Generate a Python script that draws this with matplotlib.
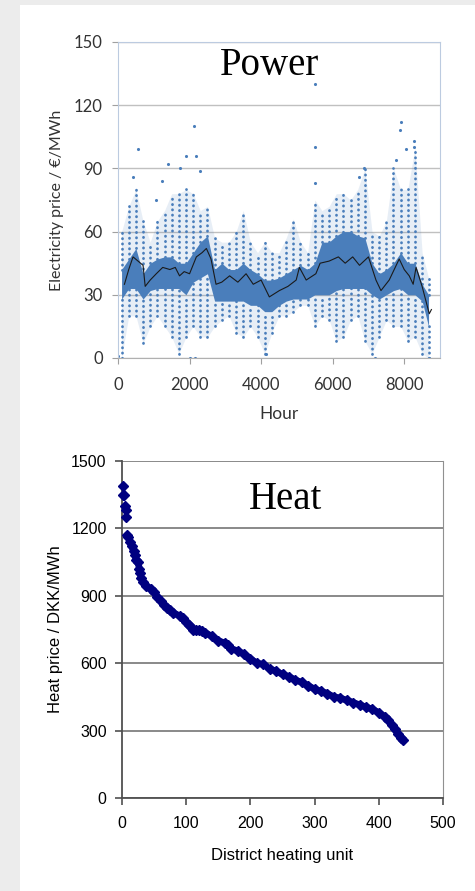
import matplotlib
matplotlib.use('Agg')
import matplotlib.pyplot as plt
from matplotlib.patches import Rectangle

# hourly electricity price, summarised per 200 h bin
bin_hours = [100, 300, 500, 700, 900, 1100, 1300, 1500, 1700, 1900,
             2100, 2300, 2500, 2700, 2900, 3100, 3300, 3500, 3700, 3900,
             4100, 4300, 4500, 4700, 4900, 5100, 5300, 5500, 5700, 5900,
             6100, 6300, 6500, 6700, 6900, 7100, 7300, 7500, 7700, 7900,
             8100, 8300, 8500, 8680]
core_lo = [28, 33, 33, 28, 32, 33, 33, 33, 33, 30,
           36, 38, 40, 27, 27, 27, 27, 27, 25, 25,
           22, 22, 25, 27, 28, 28, 28, 30, 30, 30,
           32, 33, 33, 33, 33, 30, 28, 30, 32, 33,
           30, 30, 27, 15]
core_hi = [42, 47, 52, 40, 45, 47, 48, 48, 45, 45,
           50, 55, 58, 42, 45, 42, 42, 45, 42, 40,
           37, 37, 38, 40, 42, 44, 42, 45, 55, 55,
           58, 60, 60, 58, 57, 45, 40, 42, 45, 50,
           45, 45, 35, 30]
spread_hi = [60, 72, 80, 65, 55, 65, 70, 78, 78, 80,
             78, 70, 72, 57, 55, 55, 60, 70, 55, 50,
             55, 50, 50, 57, 66, 55, 50, 75, 70, 72,
             78, 78, 75, 80, 90, 60, 58, 65, 90, 80,
             80, 100, 50, 38]
spread_lo = [0, 20, 20, 7, 15, 20, 15, 10, 2, 10,
             15, 10, 10, 15, 18, 20, 12, 10, 15, 10,
             2, 12, 20, 20, 22, 25, 25, 15, 20, 18,
             8, 10, 18, 20, 8, 2, 10, 18, 15, 15,
             8, 10, 2, 0]

# isolated outliers
out_hours = [420, 560, 1070, 1230, 1400, 1720, 1910, 2120, 2190, 2280,
             5520, 5520, 5520, 6740, 6880, 7770, 7890, 7900, 8050, 8260,
             8280, 0, 2000, 2140, 4140, 7180, 8700]
out_vals = [86, 99, 75, 84, 92, 90, 96, 110, 96, 89,
            130, 100, 83, 86, 90, 94, 108, 112, 99, 103,
            100, 1, 0, 0, 2, 0, 0]

# moving average (black line)
avg_hours = [180, 300, 420, 560, 700, 760, 900, 1070, 1250, 1450,
             1600, 1720, 1850, 2000, 2190, 2350, 2470, 2600, 2740, 2900,
             3120, 3350, 3580, 3780, 4000, 4230, 4510, 4750, 4980, 5070,
             5260, 5530, 5650, 5900, 6160, 6350, 6560, 6750, 7000, 7210,
             7350, 7580, 7860, 8000, 8140, 8250, 8330, 8500, 8700, 8760]
avg_vals = [35, 42, 48, 46, 44, 34, 37, 40, 43, 42,
            43, 39, 41, 40, 48, 50, 52, 47, 35, 36,
            39, 36, 40, 35, 37, 29, 32, 34, 37, 43,
            37, 40, 45, 46, 48, 45, 48, 44, 48, 37,
            32, 37, 47, 42, 39, 35, 43, 34, 21, 23]

# heat price per district heating unit (sorted)
units = [1, 2, 3, 5, 6, 7, 8, 10, 12, 15, 18, 20, 22, 25, 27, 28, 30, 33,
         38, 45, 50, 55, 60, 65, 70, 75, 80, 90, 95, 100, 105, 108, 110,
         115, 120, 125, 130, 140, 150, 160, 165, 170, 180, 190, 200, 210,
         220, 230, 240, 250, 260, 270, 280, 290, 300, 310, 320, 330, 340,
         350, 360, 370, 380, 390, 400, 410, 415, 420, 425, 430, 435, 437]
heat_price = [1390, 1350, 1350, 1300, 1280, 1250, 1170, 1160, 1140, 1120,
              1100, 1080, 1060, 1050, 1020, 1000, 980, 960, 945, 930, 915,
              895, 875, 860, 845, 835, 825, 810, 800, 785, 770, 760, 750,
              750, 750, 745, 735, 720, 700, 690, 680, 665, 655, 640, 620,
              600, 595, 575, 565, 550, 540, 525, 515, 500, 485, 475, 465,
              450, 445, 435, 425, 415, 405, 395, 380, 360, 345, 325, 305,
              285, 265, 260]

blue = '#4a7ebb'
navy = '#000080'

fig = plt.figure(figsize=(4.75, 8.91), dpi=100)
fig.patch.set_facecolor('#ececec')
fig.patches.append(Rectangle((20 / 475, 0), 1, 886 / 891, transform=fig.transFigure,
                             facecolor='white', edgecolor='none', zorder=-10))

# ---- Power ----
ax1 = fig.add_axes([118 / 475, 1 - 358 / 891, 322 / 475, 316 / 891])
ax1.patch.set_alpha(0)
ax1.fill_between(bin_hours, spread_lo, spread_hi, color=blue, alpha=0.13, lw=0, zorder=2)
ax1.fill_between(bin_hours, core_lo, core_hi, color=blue, lw=0, zorder=2)
for h, lo, hi, slo, shi in zip(bin_hours, core_lo, core_hi, spread_lo, spread_hi):
    ax1.plot([h, h], [hi, shi], color=blue, lw=2.0, ls=(0, (0.1, 1.8)),
             dash_capstyle='round', zorder=2)
    ax1.plot([h, h], [slo, lo], color=blue, lw=2.0, ls=(0, (0.1, 1.8)),
             dash_capstyle='round', zorder=2)
ax1.scatter(out_hours, out_vals, s=5, color=blue, lw=0, zorder=2)
ax1.plot(avg_hours, avg_vals, color='#1a1a1a', lw=0.8, zorder=3)

ax1.set_xlim(0, 9000)
ax1.set_ylim(0, 150)
ax1.set_xticks([0, 2000, 4000, 6000, 8000])
ax1.set_yticks([0, 30, 60, 90, 120, 150])
ax1.yaxis.grid(True, color='#c0c0c0', lw=1)
ax1.set_axisbelow(True)
for s in ['top', 'right', 'left']:
    ax1.spines[s].set_color('#bccbe0')
ax1.spines['bottom'].set_color('#b0b0b0')
ax1.tick_params(axis='both', colors='#a0a0a0', labelcolor='#333333',
                labelsize=12, length=4, width=0.8)
ax1.tick_params(axis='x', pad=10)
ax1.tick_params(axis='y', pad=7)
for lab in ax1.get_xticklabels() + ax1.get_yticklabels():
    lab.set_family('Lato')
ax1.set_xlabel('Hour', family='Lato', fontsize=12.5, color='#333333', labelpad=9)
ax1.set_ylabel('Electricity price / €/MWh', family='Lato', fontsize=11.5,
               color='#333333', labelpad=7)
ax1.text(0.47, 0.925, 'Power', transform=ax1.transAxes, ha='center', va='center',
         family='Liberation Serif', fontsize=28)

# ---- Heat ----
ax2 = fig.add_axes([122 / 475, 1 - 798 / 891, 321 / 475, 337 / 891])
ax2.patch.set_alpha(0)
ax2.plot(units[6:], heat_price[6:], color=navy, lw=4.8, solid_capstyle='round',
         solid_joinstyle='round', zorder=3)
ax2.plot(units, heat_price, ls='none', marker='D', ms=5, color=navy,
         mec=navy, zorder=3, clip_on=False)
ax2.set_xlim(0, 500)
ax2.set_ylim(0, 1500)
ax2.set_xticks([0, 100, 200, 300, 400, 500])
ax2.set_yticks([0, 300, 600, 900, 1200, 1500])
ax2.yaxis.grid(True, color='#808080', lw=1.3)
ax2.set_axisbelow(True)
ax2.spines['top'].set_visible(False)
ax2.spines['right'].set_color('#909090')
for s in ['left', 'bottom']:
    ax2.spines[s].set_color('#505050')
    ax2.spines[s].set_linewidth(1.3)
ax2.tick_params(axis='both', colors='#505050', labelcolor='black',
                labelsize=11.5, length=5, width=1.2)
ax2.tick_params(axis='x', pad=8)
ax2.tick_params(axis='y', pad=6)
for lab in ax2.get_xticklabels() + ax2.get_yticklabels():
    lab.set_family('Liberation Sans')
ax2.set_xlabel('District heating unit', family='Liberation Sans', fontsize=12,
               labelpad=12)
ax2.set_ylabel('Heat price / DKK/MWh', family='Liberation Sans', fontsize=12,
               labelpad=6)
ax2.text(0.51, 0.885, 'Heat', transform=ax2.transAxes, ha='center', va='center',
         family='Liberation Serif', fontsize=28)

fig.savefig('out.png', dpi=100, facecolor=fig.get_facecolor())
